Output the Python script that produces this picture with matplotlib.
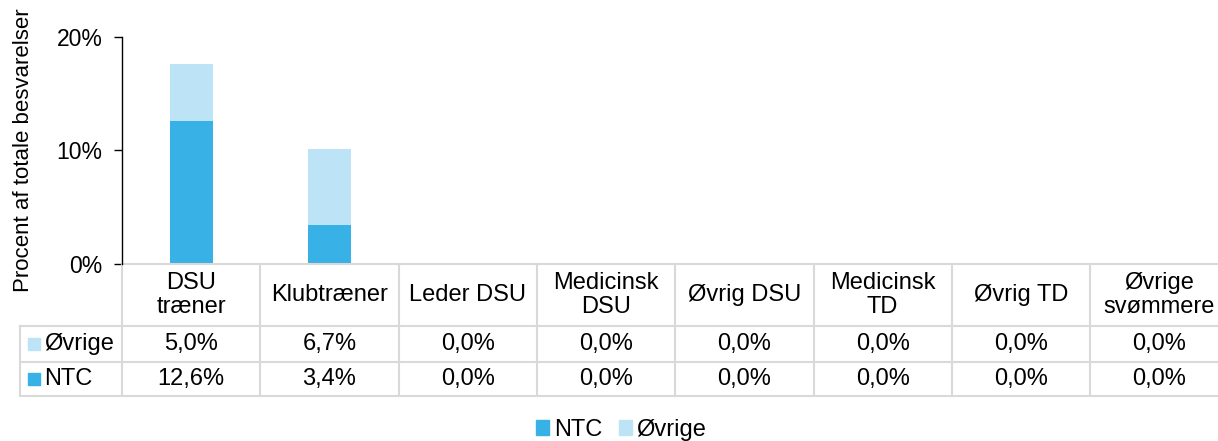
import numpy as np
import matplotlib
matplotlib.use("Agg")
import matplotlib.pyplot as plt
import matplotlib.transforms as mtransforms
from matplotlib.patches import Patch

plt.rcParams['font.family'] = ['Liberation Sans', 'DejaVu Sans']
plt.rcParams['font.size'] = 17

# ---------------------- data ----------------------
categories = ["DSU\ntræner", "Klubtræner", "Leder DSU", "Medicinsk\nDSU",
              "Øvrig DSU", "Medicinsk\nTD", "Øvrig TD", "Øvrige\nsvømmere"]
ntc = [12.6, 3.4, 0.0, 0.0, 0.0, 0.0, 0.0, 0.0]
ovrige = [5.0, 6.7, 0.0, 0.0, 0.0, 0.0, 0.0, 0.0]

c_ntc = '#38B1E6'
c_ovr = '#BDE3F6'
grid_c = '#D9D9D9'

# ---------------------- figure ----------------------
fig = plt.figure(figsize=(12.18, 4.41), dpi=100)
ax = fig.add_axes([122 / 1218, 1 - 264 / 441, 8 * 138.3 / 1218, 227.3 / 441])

x = np.arange(len(categories))
ax.bar(x, ntc, width=0.31, color=c_ntc, label='NTC')
ax.bar(x, ovrige, width=0.31, bottom=ntc, color=c_ovr, label='Øvrige')

ax.set_xlim(-0.5, len(categories) - 0.5)
ax.set_ylim(0, 20)
ax.set_yticks([0, 10, 20])
ax.set_yticklabels(['0%', '10%', '20%'])
ax.set_xticks([])
for s in ['top', 'right', 'bottom']:
    ax.spines[s].set_visible(False)
ax.spines['left'].set_color('black')
ax.spines['left'].set_linewidth(1.0)
ax.tick_params(axis='y', length=6, width=1.0, pad=8, labelsize=16.5)
ax.set_ylabel('Procent af totale besvarelser', fontsize=16, labelpad=16)

# ---------------------- data table ----------------------
tr = mtransforms.blended_transform_factory(ax.transData, ax.transAxes)
y_top = 0.0
y_head = -0.2728
y_r1 = -0.4298
y_r2 = -0.5829
x_lab = (20 - 122) / 138.3 - 0.5
x_end = len(categories) - 0.5

lk = dict(color=grid_c, lw=1.5, transform=tr, clip_on=False)
ax.plot([-0.5, x_end], [y_top, y_top], **lk)
for yy in [y_head, y_r1, y_r2]:
    ax.plot([x_lab, x_end], [yy, yy], **lk)
for i in range(len(categories) + 1):
    ax.plot([i - 0.5, i - 0.5], [y_top, y_r2], **lk)
ax.plot([x_lab, x_lab], [y_head, y_r2], **lk)

for i, cat in enumerate(categories):
    ax.text(i, (y_top + y_head) / 2, cat, ha='center', va='center',
            transform=tr, linespacing=1.1)
    ax.text(i, (y_head + y_r1) / 2, f"{ovrige[i]:.1f}%".replace('.', ','),
            ha='center', va='center', transform=tr)
    ax.text(i, (y_r1 + y_r2) / 2, f"{ntc[i]:.1f}%".replace('.', ','),
            ha='center', va='center', transform=tr)

x_sq = (33.5 - 122) / 138.3 - 0.5
x_tx = (44 - 122) / 138.3 - 0.5
for (yy0, yy1), name, col in [((y_head, y_r1), 'Øvrige', c_ovr),
                              ((y_r1, y_r2), 'NTC', c_ntc)]:
    ym = (yy0 + yy1) / 2
    ax.plot([x_sq], [ym], marker='s', ms=8.3, color=col, mec=col,
            transform=tr, clip_on=False)
    ax.text(x_tx, ym, name, ha='left', va='center', transform=tr)

# ---------------------- legend ----------------------
handles = [Patch(color=c_ntc, label='NTC'), Patch(color=c_ovr, label='Øvrige')]
fig.legend(handles=handles, loc='lower center', bbox_to_anchor=(0.51, -0.048),
           ncol=2, frameon=False, handlelength=0.55, handleheight=0.55,
           handletextpad=0.2, columnspacing=0.7)

fig.savefig('out.png', dpi=100)
